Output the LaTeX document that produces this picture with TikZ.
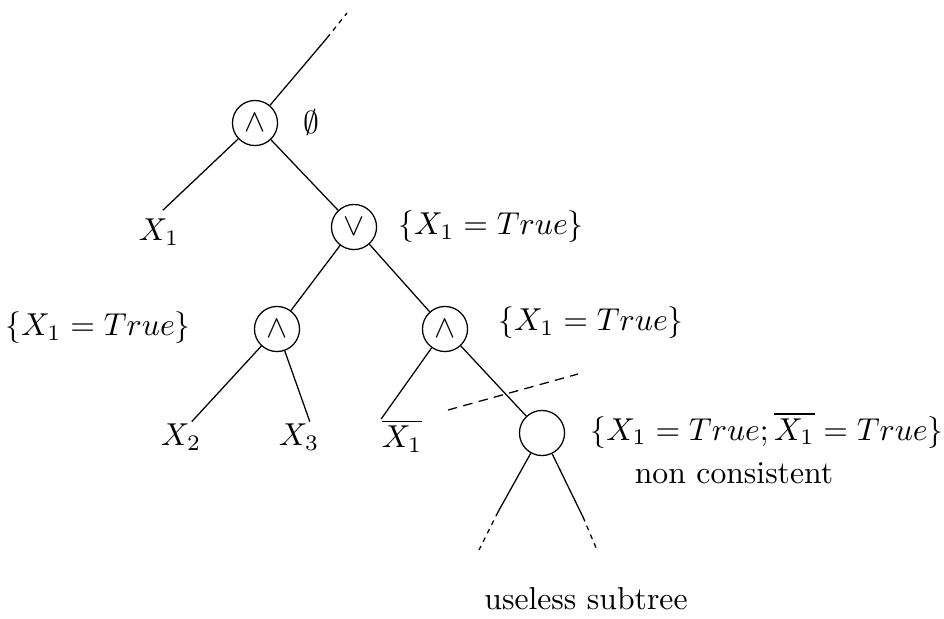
\documentclass[tikz,border=0pt]{standalone}
\usepackage{amsmath,amssymb}
\usepackage{tikz}
\usetikzlibrary{arrows.meta}

\begin{document}
\begin{tikzpicture}[x=0.0111cm,y=-0.0111cm,
    op/.style={draw,circle,minimum size=0.5cm,inner sep=0pt},
    leaf/.style={inner sep=0.5pt},
    cutline/.style={dash pattern=on 3pt off 2pt},
    fade/.style={dash pattern=on 1.5pt off 1.5pt}]
  \useasboundingbox (0,0) rectangle (944,618);
  % operator nodes
  \node[op] (top) at (255,123) {$\wedge$};
  \node[op] (or) at (354,227) {$\vee$};
  \node[op] (andl) at (277,329) {$\wedge$};
  \node[op] (andr) at (445,329) {$\wedge$};
  \node[op] (bad) at (542,433) {};
  % leaves
  \node[leaf,inner sep=2.5pt] (xa) at (159,232) {$X_1$};
  \node[leaf] (xb) at (181,437) {$X_2$};
  \node[leaf] (xc) at (299,437) {$X_3$};
  \node[leaf,inner sep=0pt] (nxa) at (402,436) {$\overline{X_1}$};
  % sets of assignments
  \node (eset) at (311,122) {$\emptyset$};
  \node (sor) at (491,227) {$\{X_1 = True\}$};
  \node (sandl) at (98,328) {$\{X_1 = True\}$};
  \node (sandr) at (591,323) {$\{X_1 = True\}$};
  \node (sbad) at (767,430) {$\{X_1 = True; \overline{X_1} = True\}$};
  \node (nc) at (734,473) {non consistent};
  \node (useless) at (586,599) {useless subtree};
  % free ends
  \coordinate (upa) at (327,38);
  \coordinate (upb) at (347,13);
  \coordinate (sla) at (498,512);
  \coordinate (slb) at (479,550);
  \coordinate (sra) at (583,517);
  \coordinate (srb) at (597,550);
  \coordinate (cuta) at (448,410);
  \coordinate (cutb) at (578,374);
  % edges
  \draw (top) -- (upa);
  \draw[fade] (upa) -- (upb);
  \draw (top) -- (xa.80);
  \draw (top) -- (or);
  \draw (or) -- (andl);
  \draw (or) -- (andr);
  \draw (andl) -- (xb.55);
  \draw (andl) -- (xc.55);
  \draw (andr) -- (nxa.north west);
  \draw (andr) -- (bad);
  \draw[cutline] (cuta) -- (cutb);
  \draw (bad) -- (sla);
  \draw[fade] (sla) -- (slb);
  \draw (bad) -- (sra);
  \draw[fade] (sra) -- (srb);
\end{tikzpicture}
\end{document}
